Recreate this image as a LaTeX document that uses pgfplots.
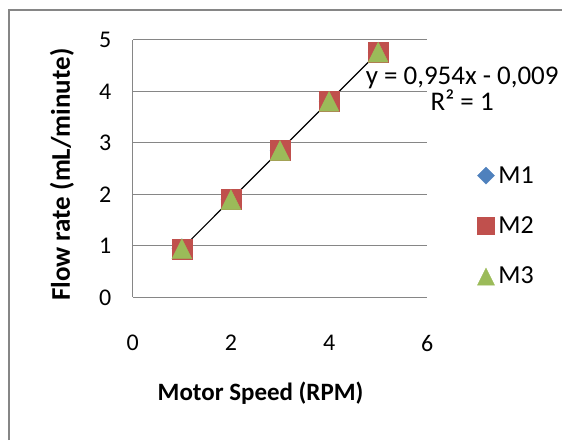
\documentclass[border=0pt]{standalone}
\usepackage{fontspec}
\setmainfont{Carlito}
\usepackage{pgfplots}
\pgfplotsset{compat=1.18}
\definecolor{mone}{HTML}{4F81BD}
\definecolor{mtwo}{HTML}{C0504D}
\definecolor{mthree}{HTML}{9BBB59}
\definecolor{gridgray}{HTML}{868686}
\newcommand\tickfont{\fontsize{24bp}{28bp}\selectfont}
\newcommand\legfont{\fontsize{26bp}{30bp}\selectfont}

\begin{document}
\begin{tikzpicture}[x=1bp,y=1bp]
\path (0,0) rectangle (563,441);
\draw[gridgray, line width=2bp] (9,0) -- (9,431) -- (563,431);
\begin{axis}[
    at={(133bp,143bp)}, anchor=south west,
    scale only axis, width=295bp, height=258bp,
    xmin=0, xmax=6, ymin=0, ymax=5,
    xtick={0,2,4,6}, ytick={0,1,...,5},
    axis line style={draw=none},
    major tick length=0pt,
    ymajorgrids, grid style={gridgray, line width=1bp},
    tick label style={font=\tickfont},
    /pgf/number format/assume math mode=true,
    yticklabel style={xshift=-18bp},
    xticklabel style={yshift=-34bp},
    clip=false,
    legend style={at={(1.17,0.513)}, anchor=north west, draw=none, fill=none,
        font=\legfont, row sep=30bp, inner sep=0pt,
        nodes={inner sep=1bp},
        /tikz/every odd column/.append style={column sep=3bp}},
    legend cell align=left,
    legend image code/.code={\draw[#1, every mark/.append style={scale=0.85}] plot coordinates {(0bp,0bp)};},
]
\draw[gridgray, line width=1bp] (axis cs:0,0) -- (axis cs:0,5);

\addplot[only marks, mark=diamond*, mark size=10bp, color=mone,
    mark options={xscale=1.333}]
    coordinates {(1,0.945) (2,1.899) (3,2.853) (4,3.807) (5,4.761)};
\addlegendentry{M1}
\addplot[only marks, mark=square*, mark size=10bp, color=mtwo]
    coordinates {(1,0.945) (2,1.899) (3,2.853) (4,3.807) (5,4.761)};
\addlegendentry{M2}
\addplot[only marks, mark=triangle*, mark size=11.5bp, color=mthree,
    mark options={yshift=-3.3bp, yscale=1.155}]
    coordinates {(1,0.945) (2,1.899) (3,2.853) (4,3.807) (5,4.761)};
\addlegendentry{M3}

% linear trendline
\addplot[black, line width=1.2bp, forget plot]
    coordinates {(1,0.945) (5,4.761)};
\end{axis}

\node[font=\fontsize{27bp}{23bp}\selectfont, align=center] at (463,352)
    {y = 0,954x - 0,009\\R² = 1};
\node[font=\bfseries\fontsize{25bp}{30bp}\selectfont] at (261,47) {Motor Speed (RPM)};
\node[font=\bfseries\fontsize{27bp}{32bp}\selectfont, rotate=90] at (62,266) {Flow rate (mL/minute)};
\end{tikzpicture}
\end{document}
